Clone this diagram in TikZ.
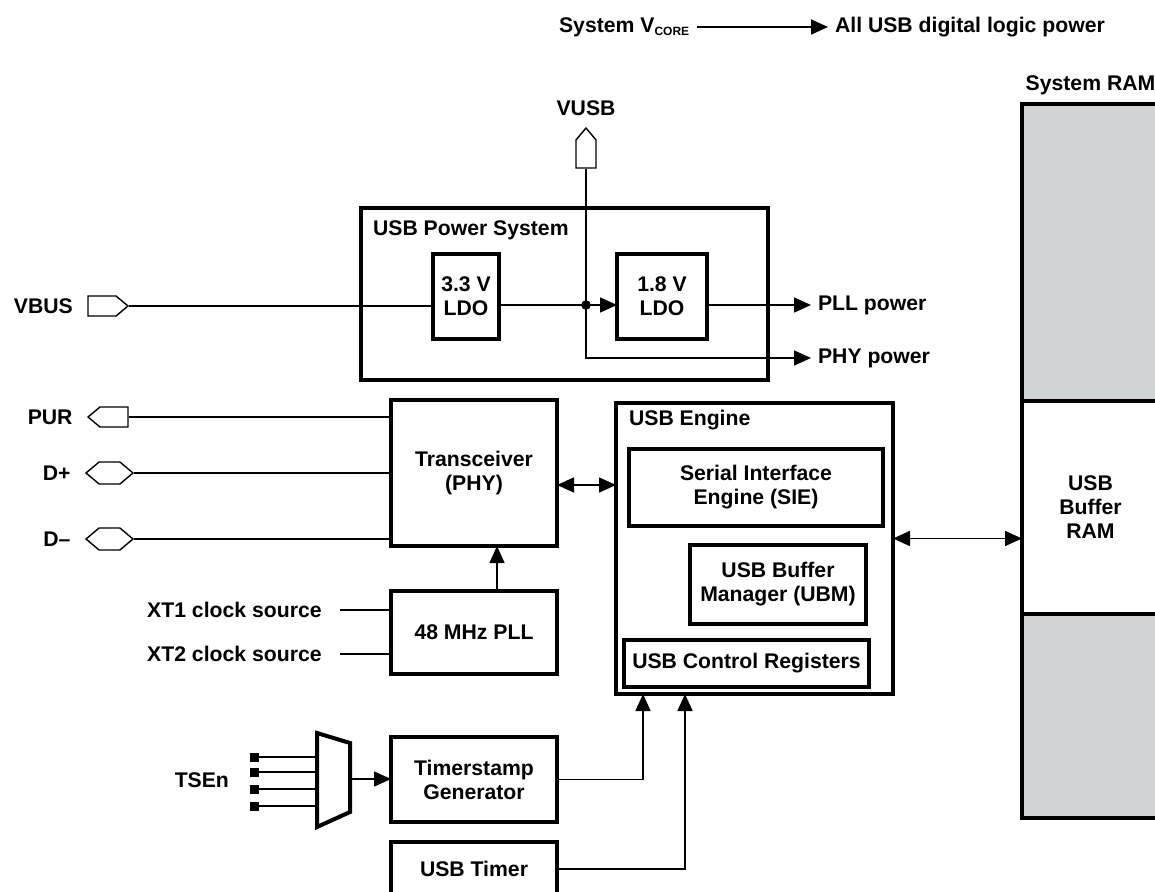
\documentclass[tikz,border=0pt]{standalone}
\usepackage{fontspec}
\setmainfont{Liberation Sans}
\usetikzlibrary{arrows.meta, positioning, shapes.symbols}
\definecolor{ramgray}{RGB}{209,211,212}

\begin{document}
\begin{tikzpicture}[x=0.5pt, y=-0.5pt,
    every node/.style={font=\fontsize{10.6}{12}\selectfont\bfseries},
    box/.style={draw, line width=2pt, align=center, inner sep=0pt, outer sep=0pt},
    wire/.style={line width=0.8pt},
    arr/.style={wire, -{Triangle[length=8.5pt, width=7.5pt]}},
    dbl/.style={wire, {Triangle[length=8.5pt, width=7.5pt]}-{Triangle[length=8.5pt, width=7.5pt]}},
    pin/.style={draw, signal, line width=0.7pt, inner sep=0pt, minimum width=20pt, minimum height=10pt, signal pointer angle=80},
    sq/.style={fill, inner sep=0pt, minimum size=4.5pt}]
    \useasboundingbox (0,0) rectangle (1155,892);
    \clip (0,0) rectangle (1155,892);

    % legend
    \node[anchor=west] (vcore) at (552,27) {System V\textsubscript{\fontsize{6}{6}\selectfont CORE}};
    \node[anchor=west] (allpwr) at (828,27) {All USB digital logic power};
    \draw[arr] (vcore.east) -- (allpwr.west);

    % system RAM
    \node[box, fill=ramgray, minimum width=68.5pt, minimum height=148.5pt, anchor=north west] (ramA) at (1022,104) {};
    \node[box, minimum width=68.5pt, minimum height=106.5pt, below=0pt of ramA] (ramB) {USB\\Buffer\\RAM};
    \node[box, fill=ramgray, minimum width=68.5pt, minimum height=102pt, below=0pt of ramB] (ramC) {};
    \node[above=1pt of ramA] (ram-lbl) {System RAM};

    % power system
    \node[box, minimum width=203.5pt, minimum height=86pt] (pwr) at (564.5,294) {};
    \node[anchor=west] (pwr-lbl) at (366,230) {USB Power System};
    \node[box, minimum width=33pt, minimum height=42.5pt] (ldoA) at (466,296.5) {3.3 V\\LDO};
    \node[box, minimum width=45pt, minimum height=42.5pt] (ldoB) at (662,296.5) {1.8 V\\LDO};
    \node[anchor=west] (pllpwr) at (811,305) {PLL power};
    \node[anchor=west] (phypwr) at (811,358) {PHY power};

    % pins
    \node[pin, signal to=east, rotate=90] (vusbpin) at (586,154) {};
    \node[above=2pt of vusbpin.east] (vusb) {VUSB};
    \node[pin, signal to=east] (vbuspin) at (102,306) {};
    \node[left=7pt of vbuspin, inner sep=0pt] (vbus) {VBUS};
    \node[pin, signal to=west] (purpin) at (114,417) {};
    \node[left=7pt of purpin, inner sep=0pt] (pur) {PUR};
    \node[pin, signal to=east and west, minimum width=23.5pt, minimum height=11pt] (dppin) at (109.5,473) {};
    \node[left=7pt of dppin, inner sep=0pt] (dp) {D+};
    \node[pin, signal to=east and west, minimum width=23.5pt, minimum height=11pt] (dmpin) at (109.5,539) {};
    \node[left=7pt of dmpin, inner sep=0pt] (dm) {D--};

    \coordinate (jct) at (vusbpin.west |- pllpwr.west);
    \draw[wire] (vbuspin.east) -- (ldoA.west |- vbuspin.east);
    \draw[wire] (ldoA.east |- jct) -- (jct);
    \draw[arr] (jct) -- (ldoB.west |- jct);
    \draw[arr] (ldoB.east |- jct) -- (pllpwr.west);
    \draw[arr] (vusbpin.west) -- (vusbpin.west |- phypwr.west) -- (phypwr.west);
    \fill (jct) circle (2.4pt);

    % transceiver and clock
    \node[box, minimum width=83pt, minimum height=73pt] (xcvr) at (474,473) {Transceiver\\(PHY)};
    \node[box, minimum width=83pt, minimum height=41.5pt] (pll) at (474,632.5) {48 MHz PLL};
    \node[anchor=east, inner xsep=9pt] (xt1) at (340,610) {XT1 clock source};
    \node[anchor=east, inner xsep=9pt] (xt2) at (340,654) {XT2 clock source};
    \draw[wire] (xt1.east) -- (pll.west |- xt1.east);
    \draw[wire] (xt2.east) -- (pll.west |- xt2.east);
    \draw[arr] ([xshift=11.5pt]pll.north) -- ([xshift=11.5pt]xcvr.south);
    \draw[wire] (purpin.east) -- (xcvr.west |- purpin.east);
    \draw[wire] (dppin.east) -- (xcvr.west |- dppin.east);
    \draw[wire] (dmpin.east) -- (xcvr.west |- dmpin.east);

    % USB engine
    \node[box, minimum width=138.5pt, minimum height=145.5pt] (eng) at (754.5,548.5) {};
    \node[anchor=west] (eng-lbl) at (622,420) {USB Engine};
    \node[box, minimum width=127pt, minimum height=38.5pt] (sie) at (756,487.5) {Serial Interface\\Engine (SIE)};
    \node[box, minimum width=88pt, minimum height=39.5pt] (ubm) at (778,584.5) {USB Buffer\\Manager (UBM)};
    \node[box, minimum width=122.5pt, minimum height=23.5pt] (creg) at (746.5,663.5) {USB Control Registers};
    \draw[dbl] ([yshift=-6pt]xcvr.east) -- ([yshift=-6pt]xcvr.east -| eng.west);
    \draw[dbl] ([yshift=5pt]eng.east) -- ([yshift=5pt]eng.east -| ramB.west);

    % timestamp
    \node[box, minimum width=83pt, minimum height=42.5pt] (tsg) at (474,779.5) {Timerstamp\\Generator};
    \node[box, minimum width=83pt, minimum height=27pt] (tmr) at (474,869) {USB Timer};
    \draw[arr] (tsg.east) -| ([xshift=-55.75pt]eng.south);
    \draw[arr] (tmr.east) -| ([xshift=-34.75pt]eng.south);

    \coordinate (mux-tl) at (317,733);
    \coordinate (mux-tr) at (350,743);
    \coordinate (mux-br) at (350,812);
    \coordinate (mux-bl) at (317,827);
    \coordinate (mux-out) at (350,779);
    \draw[line width=2pt] (mux-tl) -- (mux-tr) -- (mux-br) -- (mux-bl) -- cycle;
    \draw[arr] (mux-out) -- (tsg.west |- mux-out);
    \foreach \y [count=\i] in {757,772,789,806} {
        \node[sq] (s\i) at (254.5,\y) {};
        \draw[wire] (s\i.east) -- (s\i.east -| mux-tl);
    }
    \node[anchor=east] (tsen) at (236,780) {TSEn};
\end{tikzpicture}
\end{document}
